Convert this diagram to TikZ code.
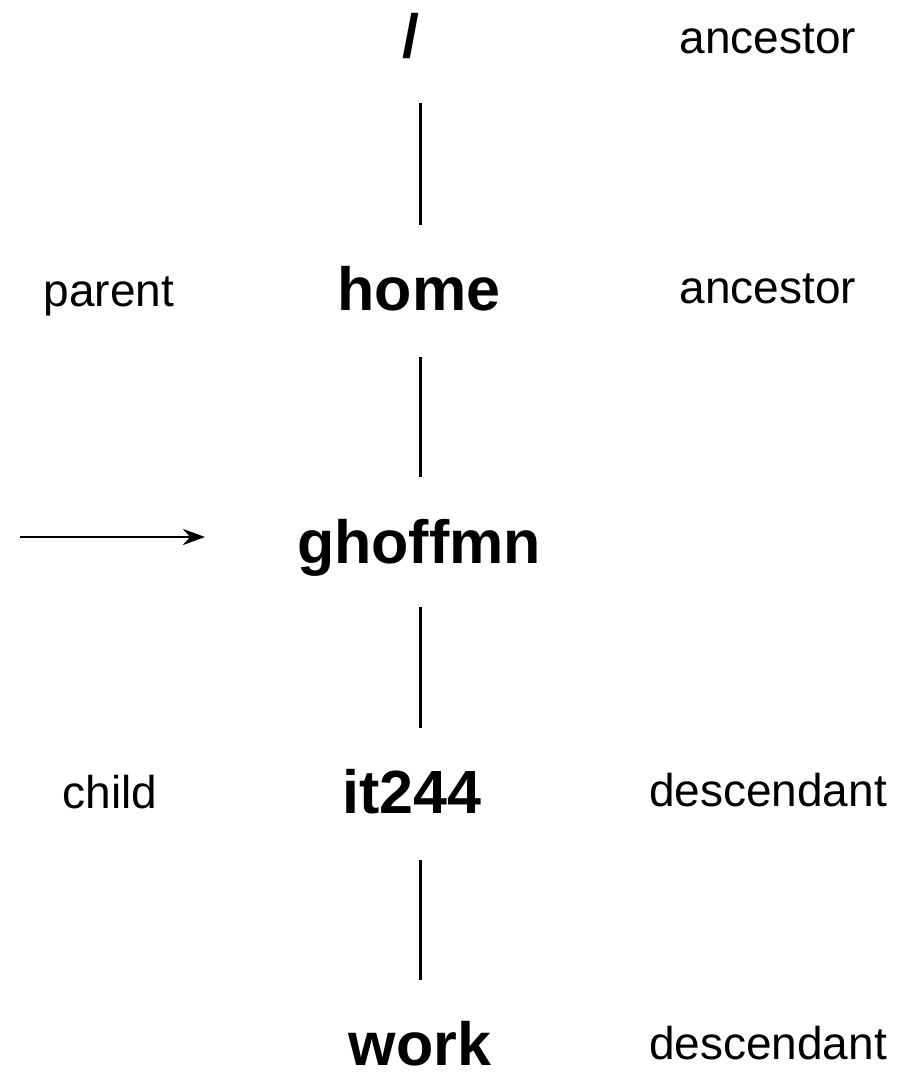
\documentclass[tikz,border=0pt]{standalone}
\usepackage{fontspec}
\setmainfont{Liberation Sans}
\usetikzlibrary{arrows.meta}
\begin{document}
\begin{tikzpicture}[x=1pt,y=-1pt,
  dirname/.style={font=\fontsize{61}{61}\selectfont\bfseries, inner sep=0pt, anchor=base},
  rel/.style={font=\fontsize{46}{46}\selectfont, inner sep=0pt, anchor=base},
  link/.style={line width=3pt},
  pointer/.style={line width=2.5pt, -{Stealth[length=22pt,width=16pt,inset=7pt]}}]
\useasboundingbox (0,0) rectangle (897,1081);
\node[dirname] (slash) at (411,58) {/};
\node[dirname] (home) at (419,310) {home};
\node[dirname] (ghoffmn) at (419,563) {ghoffmn};
\node[dirname] (it244) at (412,813) {it244};
\node[dirname] (work) at (420,1065) {work};
\node[rel] (anc1) at (768,53) {ancestor};
\node[rel] (anc2) at (768,303) {ancestor};
\node[rel] (parent) at (109,306) {parent};
\node[rel] (child) at (110,808) {child};
\node[rel] (desc1) at (768,806) {descendant};
\node[rel] (desc2) at (768,1059) {descendant};
\coordinate (a1) at (420,103); \coordinate (b1) at (420,225);
\coordinate (a2) at (420,357); \coordinate (b2) at (420,477);
\coordinate (a3) at (420,607); \coordinate (b3) at (420,728);
\coordinate (a4) at (420,860); \coordinate (b4) at (420,980);
\draw[link] (a1) -- (b1);
\draw[link] (a2) -- (b2);
\draw[link] (a3) -- (b3);
\draw[link] (a4) -- (b4);
\coordinate (p0) at (20,537); \coordinate (p1) at (205,537);
\draw[pointer] (p0) -- (p1);
\end{tikzpicture}
\end{document}
